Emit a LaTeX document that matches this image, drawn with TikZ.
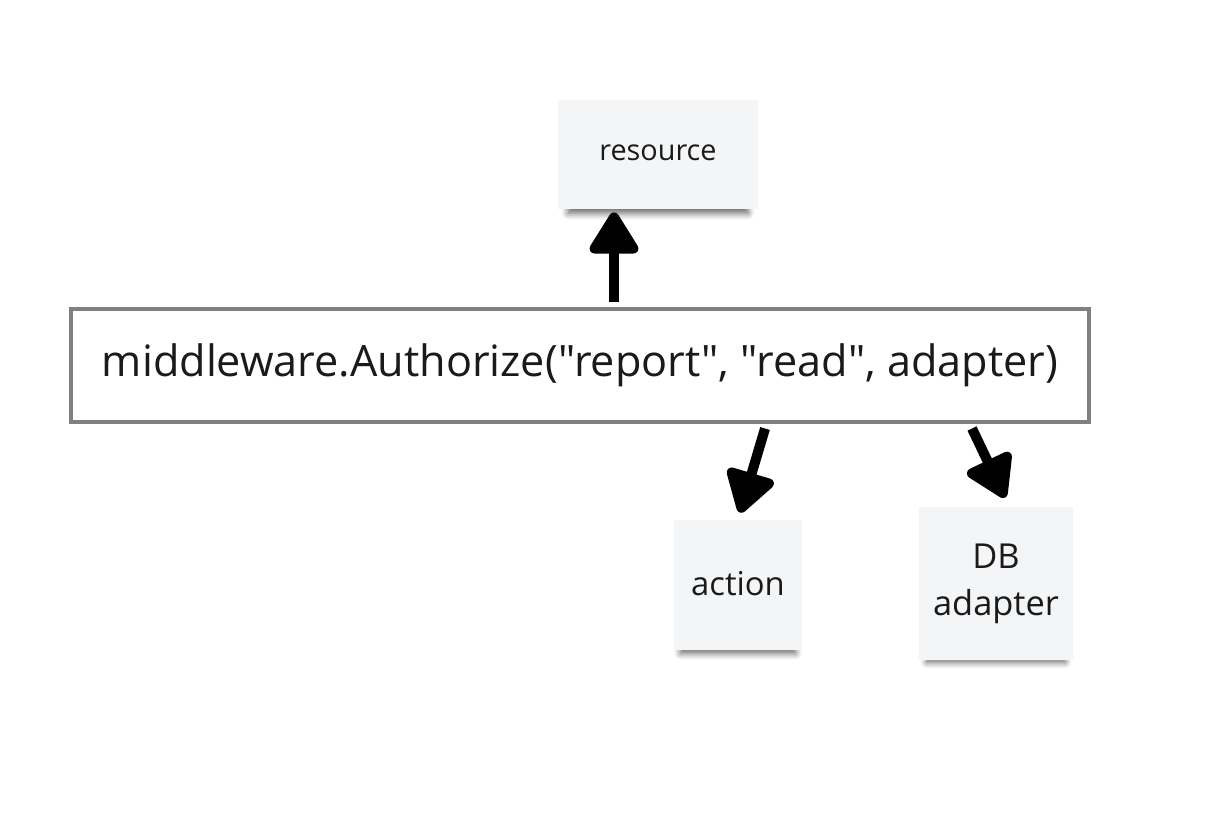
\documentclass[tikz,border=0pt]{standalone}
\usepackage{fontspec}
\setmainfont{Open Sans}[Ligatures=TeXOff]
\usepackage{tikz}
\usetikzlibrary{arrows.meta, positioning, shadows.blur}

\definecolor{noteFill}{HTML}{F4F5F7}
\definecolor{boxLine}{HTML}{808080}
\definecolor{inkText}{HTML}{1A1A1A}

\begin{document}
\begin{tikzpicture}[
        x=0.5pt, y=-0.5pt,
        callNode/.style={
            rectangle, draw=boxLine, line width=2pt, fill=white,
            minimum width=509pt, minimum height=56.5pt,
            font=\fontsize{21.6}{26}\selectfont, text=inkText
        },
        noteNode/.style={
            rectangle, fill=noteFill, align=center, text=inkText,
            blur shadow={shadow xshift=0pt, shadow yshift=-5.5pt, shadow scale=0.9,
                shadow blur radius=3.5pt, shadow blur steps=8, shadow opacity=60}
        },
        fatArrow/.style={
            line width=5pt, draw=black,
            -{Triangle[width=27pt, length=23pt, round]}
        }
    ]
        \useasboundingbox (0,0) rectangle (1224,816);

        % Call box
        \node (call) [callNode] at (580,365) {middleware.Authorize("report", "read", adapter)};

        % Sticky notes
        \node (resource) [noteNode, minimum width=100pt, minimum height=54.5pt,
            font=\fontsize{14.4}{17}\selectfont] at (658,154.5) {\raisebox{2pt}{resource}};
        \node (action) [noteNode, minimum width=64pt, minimum height=65pt,
            font=\fontsize{16.4}{20}\selectfont] at (738,585) {\raisebox{2pt}{action}};
        \node (adapter) [noteNode, minimum width=77pt, minimum height=76.5pt,
            font=\fontsize{17.2}{23.5}\selectfont] at (996,583.5) {DB\\adapter};

        \draw [fatArrow] ([xshift=17pt, yshift=2.5pt]call.north) -- ([xshift=-22pt, yshift=-1.5pt]resource.south);
        \draw [fatArrow] ([xshift=92.5pt, yshift=-2.5pt]call.south) -- ([xshift=1pt, yshift=3.5pt]action.north);
        \draw [fatArrow] ([xshift=196pt, yshift=-2.5pt]call.south) -- ([xshift=4.5pt, yshift=4.5pt]adapter.north);
    \end{tikzpicture}
\end{document}
